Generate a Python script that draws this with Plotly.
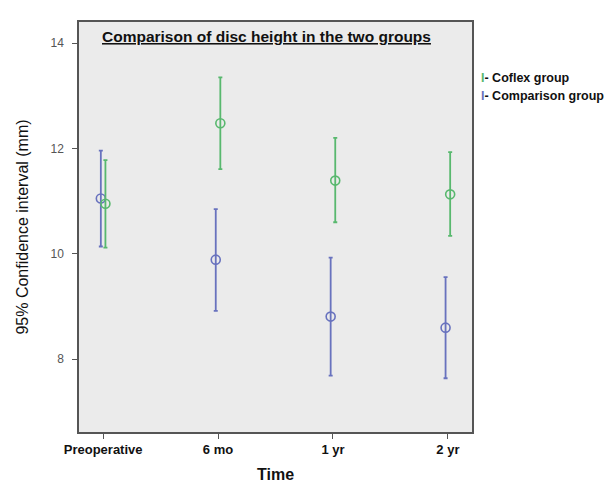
import plotly.graph_objects as go

categories = ["Preoperative", "6 mo", "1 yr", "2 yr"]
coflex_mean = [10.95, 12.48, 11.39, 11.13]
coflex_lower = [10.12, 11.61, 10.60, 10.34]
coflex_upper = [11.78, 13.35, 12.20, 11.93]
comp_mean = [11.05, 9.89, 8.81, 8.60]
comp_lower = [10.14, 8.92, 7.69, 7.64]
comp_upper = [11.96, 10.85, 9.93, 9.56]
y_ticks = [8, 10, 12, 14]

GREEN = "rgb(88,184,110)"
BLUE = "rgb(104,114,190)"
idx = list(range(len(categories)))

fig = go.Figure()

def add_series(mean, lo, hi, color, offset, name):
    fig.add_trace(go.Scatter(
        x=[i + offset for i in idx], y=mean, mode="markers", name=name,
        marker=dict(symbol="circle-open", size=9, color=color, line=dict(width=1.6, color=color)),
        error_y=dict(type="data", symmetric=False,
                     array=[h - m for h, m in zip(hi, mean)],
                     arrayminus=[m - l for m, l in zip(mean, lo)],
                     color=color, thickness=1.8, width=2),
        showlegend=False,
    ))

add_series(comp_mean, comp_lower, comp_upper, BLUE, -0.02, "Comparison group")
add_series(coflex_mean, coflex_lower, coflex_upper, GREEN, 0.02, "Coflex group")

fig.add_annotation(
    text="<b><u>Comparison of disc height in the two groups</u></b>",
    xref="paper", yref="paper", x=0.478, y=0.965, xanchor="center", yanchor="middle",
    showarrow=False, font=dict(family="Liberation Sans, Arial", size=15.5, color="#111"))

fig.add_annotation(
    text="<b><span style='color:%s'>I</span>- Coflex group</b>" % GREEN,
    xref="paper", yref="paper", x=1.018, y=0.864, xanchor="left", yanchor="middle",
    showarrow=False, font=dict(family="Liberation Sans, Arial", size=12.5, color="#111"))
fig.add_annotation(
    text="<b><span style='color:%s'>I</span>- Comparison group</b>" % BLUE,
    xref="paper", yref="paper", x=1.018, y=0.82, xanchor="left", yanchor="middle",
    showarrow=False, font=dict(family="Liberation Sans, Arial", size=12.5, color="#111"))

fig.update_layout(
    width=612, height=485,
    margin=dict(l=71, r=148, t=14, b=53),
    paper_bgcolor="white", plot_bgcolor="#ebebeb",
    font=dict(family="Liberation Sans, Arial", color="#111"),
    xaxis=dict(
        range=[-0.21, 3.21], tickvals=idx,
        ticktext=["<b>%s</b>" % c for c in categories],
        tickfont=dict(size=13, color="#111"),
        ticks="outside", ticklen=5, tickcolor="#555", tickwidth=1.2,
        showgrid=False, zeroline=False,
        showline=True, linecolor="#555", linewidth=1.5, mirror=True,
        title=dict(text="<b>Time</b>", font=dict(size=16, color="#111"), standoff=12),
    ),
    yaxis=dict(
        range=[6.62, 14.4], tickvals=y_ticks,
        tickfont=dict(size=12, color="#555"),
        ticks="outside", ticklen=5, tickcolor="#555", tickwidth=1.2,
        ticklabelstandoff=6,
        showgrid=False, zeroline=False,
        showline=True, linecolor="#555", linewidth=1.5, mirror=True,
        title=dict(text="95% Confidence interval (mm)", font=dict(size=16, color="#111"), standoff=18),
    ),
)

fig.write_html("out.html")
